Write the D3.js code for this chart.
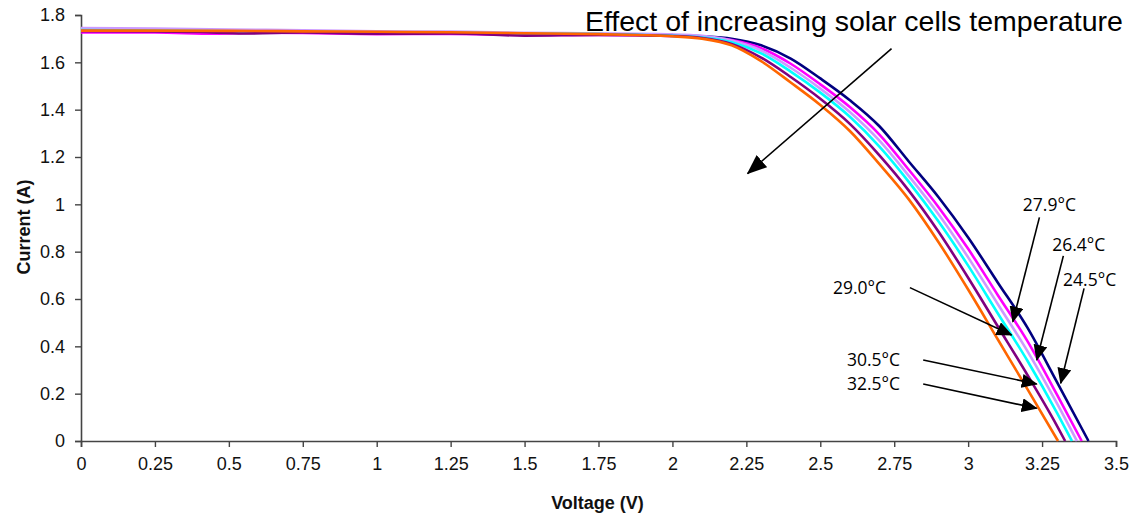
<!DOCTYPE html>
<html>
<head>
<meta charset="utf-8">
<script src="https://cdn.jsdelivr.net/npm/d3@7"></script>
<style>
    body { margin: 0; background: #fff; }
</style>
</head>
<body>
<div id="iv-chart"></div>
<script>
// Axis ticks
const xTicks = [0, 0.25, 0.5, 0.75, 1, 1.25, 1.5, 1.75, 2, 2.25, 2.5, 2.75, 3, 3.25, 3.5];
const yTicks = [0, 0.2, 0.4, 0.6, 0.8, 1, 1.2, 1.4, 1.6, 1.8];

// I-V curves, [voltage (V), current (A)]
const curve245 = [[0,1.735],[0.25,1.733],[0.5,1.730],[0.75,1.728],[1.0,1.722],[1.25,1.724],[1.5,1.718],[1.75,1.720],[2.0,1.714],[2.1,1.710],[2.2,1.700],[2.3,1.672],[2.4,1.616],[2.5,1.532],[2.6,1.440],[2.7,1.330],[2.8,1.180],[2.9,1.030],[3.0,0.860],[3.1,0.670],[3.2,0.480],[3.3,0.250],[3.407,0]];
const curve264 = [[0,1.726],[0.25,1.726],[0.45,1.721],[0.6,1.725],[0.75,1.724],[1.0,1.719],[1.25,1.720],[1.5,1.716],[1.75,1.716],[2.0,1.712],[2.1,1.707],[2.2,1.694],[2.3,1.660],[2.4,1.594],[2.5,1.507],[2.6,1.411],[2.7,1.295],[2.8,1.145],[2.9,0.988],[3.0,0.812],[3.1,0.617],[3.2,0.423],[3.3,0.197],[3.384,0]];
const curve279 = [[0,1.745],[0.25,1.743],[0.5,1.739],[0.75,1.735],[1.0,1.731],[1.25,1.730],[1.5,1.725],[1.75,1.722],[2.0,1.718],[2.1,1.712],[2.2,1.692],[2.3,1.650],[2.4,1.577],[2.5,1.489],[2.6,1.390],[2.7,1.269],[2.8,1.119],[2.9,0.958],[3.0,0.776],[3.1,0.579],[3.2,0.381],[3.3,0.160],[3.368,0]];
const curve290 = [[0,1.736],[0.25,1.734],[0.5,1.731],[0.75,1.729],[1.0,1.726],[1.25,1.725],[1.5,1.721],[1.75,1.719],[2.0,1.712],[2.1,1.705],[2.2,1.685],[2.3,1.638],[2.4,1.561],[2.5,1.472],[2.6,1.370],[2.7,1.244],[2.8,1.094],[2.9,0.927],[3.0,0.741],[3.1,0.540],[3.2,0.340],[3.3,0.120],[3.351,0]];
const curve305 = [[0,1.732],[0.25,1.731],[0.4,1.728],[0.55,1.722],[0.75,1.726],[1.0,1.721],[1.25,1.722],[1.5,1.713],[1.75,1.716],[2.0,1.711],[2.1,1.703],[2.2,1.678],[2.3,1.620],[2.4,1.538],[2.5,1.446],[2.6,1.340],[2.7,1.207],[2.8,1.057],[2.9,0.884],[3.0,0.690],[3.1,0.485],[3.2,0.280],[3.3,0.065],[3.328,0]];
const curve325 = [[0,1.734],[0.25,1.734],[0.5,1.733],[0.75,1.731],[1.0,1.729],[1.25,1.727],[1.5,1.723],[1.75,1.719],[2.0,1.710],[2.1,1.700],[2.2,1.672],[2.3,1.605],[2.4,1.515],[2.5,1.420],[2.6,1.310],[2.7,1.170],[2.8,1.020],[2.9,0.840],[3.0,0.640],[3.1,0.430],[3.2,0.220],[3.304,0]];

const seriesCurves = [curve245, curve264, curve279, curve290, curve305, curve325];
const seriesColors = ["#000080", "#ff00ff", "#cc99ff", "#00ffff", "#800080", "#ff6600"];

// Temperature labels and their arrows, in data units
const tempLabels = ["27.9°C", "26.4°C", "24.5°C", "29.0°C", "30.5°C", "32.5°C"];
const tempLabelPos = [[3.185, 0.972], [3.284, 0.803], [3.321, 0.655], [2.543, 0.621], [2.590, 0.317], [2.590, 0.215]];
const tempArrowFrom = [[3.241, 0.945], [3.322, 0.782], [3.392, 0.645], [2.803, 0.648], [2.848, 0.342], [2.848, 0.241]];
const tempArrowTo = [[3.151, 0.504], [3.232, 0.342], [3.313, 0.244], [3.147, 0.448], [3.232, 0.241], [3.232, 0.138]];

// Big annotation
const noteText = "Effect of increasing solar cells temperature";
const notePos = [1.704, 1.732];
const noteArrowFrom = [2.741, 1.658];
const noteArrowTo = [2.254, 1.130];

function drawChart() {
    const width = 1144, height = 515;
    const plot = { left: 81, right: 1116, top: 15, bottom: 441 };

    const svg = d3.select("#iv-chart")
        .append("svg")
        .attr("width", width)
        .attr("height", height)
        .style("display", "block");

    const xScale = d3.scaleLinear().domain([0, 3.5]).range([plot.left, plot.right]);
    const yScale = d3.scaleLinear().domain([0, 1.8]).range([plot.bottom, plot.top]);

    // Arrow heads
    const defs = svg.append("defs");
    defs.append("marker")
        .attr("id", "head-small")
        .attr("markerUnits", "userSpaceOnUse")
        .attr("viewBox", "0 0 16 14")
        .attr("refX", 15).attr("refY", 7)
        .attr("markerWidth", 16).attr("markerHeight", 14)
        .attr("orient", "auto")
        .append("path").attr("d", "M0,0 L16,7 L0,14 Z").attr("fill", "#000");
    defs.append("marker")
        .attr("id", "head-big")
        .attr("markerUnits", "userSpaceOnUse")
        .attr("viewBox", "0 0 20 16")
        .attr("refX", 19).attr("refY", 8)
        .attr("markerWidth", 20).attr("markerHeight", 16)
        .attr("orient", "auto")
        .append("path").attr("d", "M0,0 L20,8 L0,16 Z").attr("fill", "#000");

    // x axis
    const xAxis = svg.append("g")
        .attr("transform", `translate(0,${plot.bottom})`)
        .call(d3.axisBottom(xScale).tickValues(xTicks).tickSizeOuter(0).tickSize(6).tickPadding(10)
            .tickFormat(d => String(d)));
    // y axis
    const yAxis = svg.append("g")
        .attr("transform", `translate(${plot.left},0)`)
        .call(d3.axisLeft(yScale).tickValues(yTicks).tickSizeOuter(0).tickSize(6).tickPadding(10)
            .tickFormat(d => String(+d.toFixed(1))));

    [xAxis, yAxis].forEach(ax => {
        ax.select(".domain").attr("stroke", "#444").attr("stroke-width", 1.6);
        ax.selectAll(".tick line").attr("stroke", "#444").attr("stroke-width", 1.4);
        ax.selectAll(".tick text")
            .attr("fill", "#111")
            .style("font-family", "Arial, 'Liberation Sans', sans-serif")
            .style("font-size", "18px");
    });

    // Axis titles
    svg.append("text")
        .attr("x", (plot.left + plot.right) / 2 - 1)
        .attr("y", 509)
        .attr("text-anchor", "middle")
        .style("font-family", "Arial, 'Liberation Sans', sans-serif")
        .style("font-size", "18px")
        .style("font-weight", "bold")
        .attr("fill", "#111")
        .text("Voltage (V)");

    svg.append("text")
        .attr("transform", "rotate(-90)")
        .attr("x", -227)
        .attr("y", 30)
        .attr("text-anchor", "middle")
        .style("font-family", "Arial, 'Liberation Sans', sans-serif")
        .style("font-size", "18px")
        .style("font-weight", "bold")
        .attr("fill", "#111")
        .text("Current (A)");

    // I-V curves
    const lineGenerator = d3.line()
        .x(d => xScale(d[0]))
        .y(d => yScale(d[1]))
        .curve(d3.curveMonotoneX);

    svg.append("g")
        .selectAll("path")
        .data(seriesCurves)
        .enter()
        .append("path")
        .attr("fill", "none")
        .attr("stroke", (d, i) => seriesColors[i])
        .attr("stroke-width", 2.6)
        .attr("stroke-linejoin", "round")
        .attr("d", lineGenerator);

    // Big annotation text and arrow
    svg.append("text")
        .attr("x", xScale(notePos[0]))
        .attr("y", yScale(notePos[1]))
        .style("font-family", "Arial, 'Liberation Sans', sans-serif")
        .style("font-size", "28.5px")
        .attr("fill", "#000")
        .text(noteText);

    svg.append("line")
        .attr("x1", xScale(noteArrowFrom[0])).attr("y1", yScale(noteArrowFrom[1]))
        .attr("x2", xScale(noteArrowTo[0])).attr("y2", yScale(noteArrowTo[1]))
        .attr("stroke", "#000")
        .attr("stroke-width", 1.6)
        .attr("marker-end", "url(#head-big)");

    // Temperature labels with arrows
    const notes = svg.append("g");
    tempLabels.forEach((label, i) => {
        notes.append("line")
            .attr("x1", xScale(tempArrowFrom[i][0])).attr("y1", yScale(tempArrowFrom[i][1]))
            .attr("x2", xScale(tempArrowTo[i][0])).attr("y2", yScale(tempArrowTo[i][1]))
            .attr("stroke", "#000")
            .attr("stroke-width", 1.6)
            .attr("marker-end", "url(#head-small)");
        notes.append("text")
            .attr("x", xScale(tempLabelPos[i][0]))
            .attr("y", yScale(tempLabelPos[i][1]))
            .style("font-family", "'Open Sans', 'Noto Sans', sans-serif")
            .style("font-size", "17.5px")
            .attr("fill", "#000")
            .text(label);
    });
}

document.addEventListener('DOMContentLoaded', function () {
    drawChart();
});
</script>
</body>
</html>
